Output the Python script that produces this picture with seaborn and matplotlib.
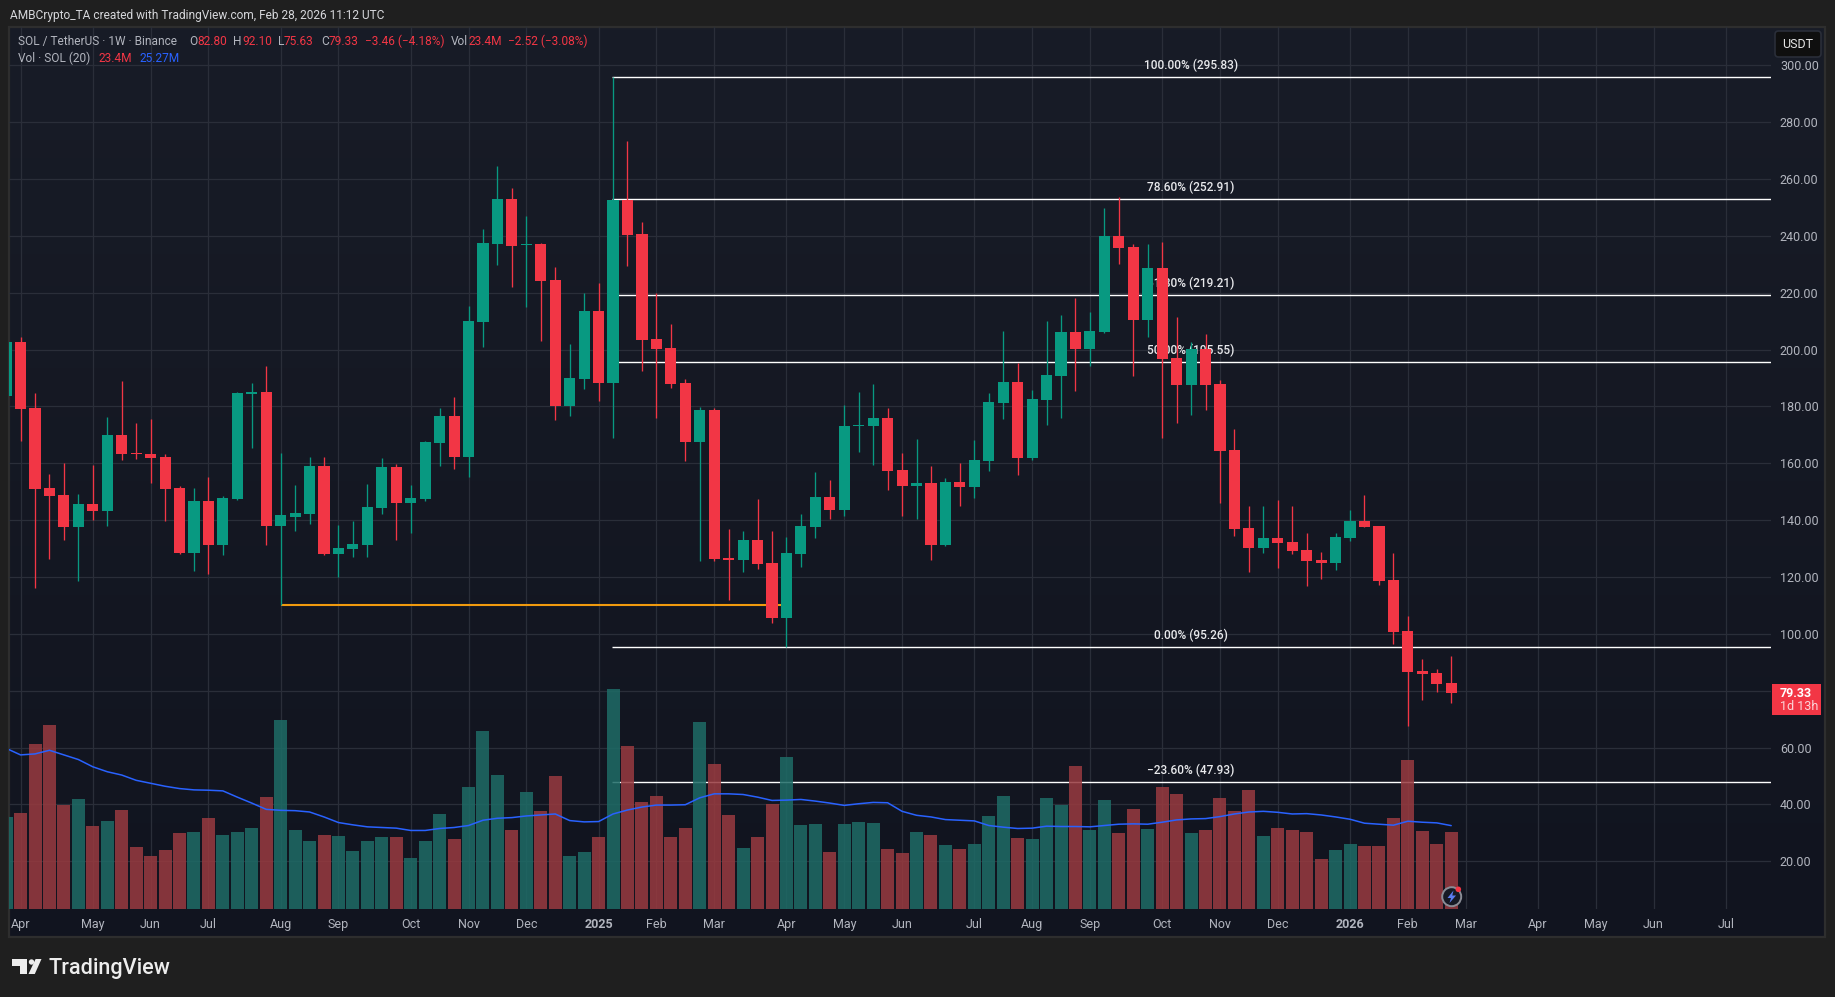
import numpy as np
import pandas as pd
import matplotlib
matplotlib.use("Agg")
import matplotlib.pyplot as plt
from matplotlib.patches import Rectangle, Circle, Polygon, FancyBboxPatch
import seaborn as sns

# ---- data -----------------------------------------------------------------
weeks = list(range(-1, 100))
open_ = [183.8,202.7,179.5,151.3,148.9,137.6,145.7,143.2,170,163.6,163.3,162.2,151.3,128.5,146.7,131.3,147.5,184.4,185.1,138,141.1,142.2,159.1,128.1,129.9,131.3,144.3,158.7,146,147.5,167.2,176.6,162.2,209.7,237.1,253,236.8,237.1,224.5,180.2,189.7,213.6,188.3,252.6,240.7,203.7,200.6,188.3,167.5,178.8,126.7,126,133,125,105.6,128.1,137.6,148.2,143.6,173.1,173.1,175.9,157.6,152,153.1,131.3,153.4,151.7,160.8,181.2,188.6,161.9,182.3,190.7,206.2,200.2,206.2,239.9,236.1,210.4,228.7,197,187.5,200.2,187.9,164.7,137.2,130.2,133.7,132.3,129.5,126,125,133.7,139.7,138,119,101,87,86.2,82.8]
high_ = [203,204.6,184.7,156.2,160.1,149.2,159.4,176.3,189,174.2,175.6,163.3,152,151.3,155.2,148.5,185.1,188.3,194.2,163.6,152.4,162.2,162.2,138.3,139.7,152.7,161.9,159.8,152.4,167.9,179.5,183.3,215.3,242.4,264.6,256.8,247,237.5,229,202,219.9,223.4,295.83,273.4,244.9,219.8,209,189.7,179.8,179.5,136.9,136.2,147.5,136.2,134.1,142.2,157,154.1,180.5,185.1,187.9,179.5,163.6,168.6,159.1,154.9,160.1,168.2,184.7,206.5,195.3,185.8,210,212.2,218.2,213.2,249.8,253.7,237.1,237.1,237.9,211.5,202.7,205.5,189.3,172.1,145,145,147.1,145,135.5,128.8,135.5,143.6,148.9,138,128.5,106.3,91.2,87.6,92.1]
low_ = [183,167.9,116.3,126.4,133,118.6,140.1,138,161.2,161.5,153.1,139.7,128.1,122.1,121.1,127.8,147.1,165.4,131.3,110.2,136.2,138.7,127.8,120,127.1,127.1,142.2,133,135.5,146.7,159.1,158,155.2,200.9,229.8,222,215,203,175.2,176.6,186.1,181.9,169,229.4,192.5,175.9,186.5,160.8,125.6,125.6,111.9,121.8,122.8,103.8,95.26,123.5,133.7,140.4,141.5,164,159.4,150.6,141.5,140.4,126,130.9,145,147.8,157.3,175.6,155.9,161.2,173.5,175.9,185.4,194.2,205.8,230.1,190.7,204.4,168.9,174.2,177,178.7,146,134.4,121.8,128.5,123.2,128.1,116.8,119.3,122.5,132.7,137.6,117.2,96.4,67.6,76.7,79.6,75.63]
close_ = [202.7,179.1,151,148.5,137.6,145.7,143.2,170,163.3,163.3,161.9,151,128.5,146.7,131.3,147.8,184.7,185.1,138,141.8,142.5,159.1,128.1,130.2,131.6,144.6,158.7,146,147.8,167.5,176.6,162.2,210,237.5,253,236.4,237.1,224.1,180.2,190,213.6,188.3,252.6,240.3,203.4,200.2,187.9,167.5,178.8,126.3,126,133,124.6,105.6,128.5,138,148.2,143.6,173.1,173.5,175.9,157.3,152,153.1,131.3,153.4,151.7,161.2,181.6,188.6,161.9,182.6,191,206.2,200.2,206.5,239.9,235.7,210.4,228.7,196.7,187.5,200.2,187.5,164.3,136.9,130.2,133.7,132,129.2,125.6,125,134.1,139.7,137.6,118.6,100.7,86.6,85.9,82.4,79.33]
volume = [27.9,29.1,50.0,55.8,31.5,33.3,25.1,26.7,30.0,18.8,16.1,17.9,23.0,23.3,27.6,22.4,23.3,24.5,33.9,57.3,23.9,20.6,22.4,22.1,17.6,20.6,21.8,21.8,15.5,20.6,28.8,21.2,37.0,53.9,40.6,23.9,35.5,29.7,40.3,16.1,17.3,21.8,66.7,49.4,32.4,34.2,21.8,24.5,56.7,43.9,28.5,18.5,21.8,31.8,46.1,25.5,25.8,17.3,25.8,26.4,26.1,18.2,17.0,23.3,22.4,19.4,18.2,19.7,28.2,34.2,21.5,21.2,33.6,31.5,43.3,23.9,33.0,23.0,30.3,24.2,37.0,34.8,23.0,23.9,33.6,29.7,36.1,22.1,24.5,23.9,23.3,15.2,17.9,19.7,19.1,19.1,27.6,45.1,23.6,19.7,23.4]
vol_ma = [48.7,46.7,47.0,48.1,46.7,45.3,43.1,41.6,40.6,39.0,38.1,37.2,36.5,36.1,36.0,35.8,33.9,32.1,30.2,29.9,29.8,29.4,27.9,26.2,25.5,24.9,24.7,24.5,23.8,23.8,24.4,24.7,25.3,26.9,27.5,27.7,28.2,28.5,28.8,26.8,26.4,26.5,28.8,30.0,30.9,31.5,31.5,31.6,33.7,34.9,34.9,34.7,33.9,32.9,33.0,33.2,32.7,32.1,31.4,31.9,32.3,32.2,29.6,28.4,27.9,27.1,26.9,26.7,25.3,24.8,24.4,24.5,25.1,25.0,25.0,24.9,25.3,25.7,25.8,25.7,26.3,27.0,27.3,27.4,28.0,28.8,29.4,29.6,29.3,28.8,28.9,28.5,27.9,27.2,26.0,25.7,25.4,26.6,26.3,26.1,25.27]
fib_levels = [295.83, 252.91, 219.21, 195.55, 95.26, 47.93]
fib_names = ["100.00%", "78.60%", "61.80%", "50.00%", "0.00%", "\u221223.60%"]
orange_level = 110.1
price_ticks = list(range(20, 301, 20))
time_ticks = [0,5,9,13,18,22,27,31,35,40,44,48,53,57,61,66,70,74,79,83,87,92,96,100,105,109,113,118]
time_labels = ["Apr","May","Jun","Jul","Aug","Sep","Oct","Nov","Dec","2025","Feb","Mar","Apr","May","Jun","Jul","Aug","Sep","Oct","Nov","Dec","2026","Feb","Mar","Apr","May","Jun","Jul"]

df = pd.DataFrame(dict(week=weeks, o=open_, h=high_, l=low_, c=close_, vol=volume, ma=vol_ma))
df["dir"] = np.where(df.c >= df.o, "up", "down")

# ---- style ---------------------------------------------------------------
W, H = 1835, 997
sns.set_theme(style="dark")
plt.rcParams["font.family"] = ["Roboto", "DejaVu Sans"]
GREEN, RED, BLUE = "#089981", "#F23645", "#2962FF"
GREY = "#B2B5BE"
GRID = "#2A2E39"

fig = plt.figure(figsize=(W / 100, H / 100), dpi=100, facecolor="#1F1F1F")

def frac(x0, y0, x1, y1):
    return [x0 / W, 1 - y1 / H, (x1 - x0) / W, (y1 - y0) / H]

# panel background
bg = fig.add_axes([0, 0, 1, 1], zorder=0)
bg.set_xlim(0, W); bg.set_ylim(H, 0); bg.axis("off")
top, bot = np.array([0x18, 0x1C, 0x27]) / 255, np.array([0x11, 0x14, 0x1F]) / 255
grad = np.linspace(0, 1, 256)[:, None, None] * (bot - top) + top
bg.imshow(grad, extent=(9, 1825, 937, 27), aspect="auto", zorder=1)
bg.set_xlim(0, W); bg.set_ylim(H, 0)
bg.add_patch(Rectangle((9, 27), 1816, 910, fill=False, ec="#2E2E2E", lw=1.6, zorder=2))

# price pane
x_min, x_max = -0.80, 121.13
ax = fig.add_axes(frac(9, 27, 1771, 909), zorder=1)
ax.patch.set_alpha(0)
ax.set_xlim(x_min, x_max)
ax.set_ylim(3.2, 313.5)
for s in ax.spines.values():
    s.set_visible(False)
ax.grid(True, color=GRID, lw=0.9, zorder=0)
ax.set_axisbelow(True)

# fib levels and their labels lie under the candles
for name, lvl in zip(fib_names, fib_levels):
    ax.hlines(lvl, 41 - 0.1, x_max, color="white", lw=1.0, zorder=1.5)
    ax.annotate(f"{name} ({lvl:.2f})", xy=(81.0, lvl), xytext=(0, 8.5), textcoords="offset points",
                ha="center", va="center", color="#E8E9EC", fontsize=8.6, fontweight="medium", zorder=1.6)
ax.hlines(orange_level, 18, 53, color="#F09A0E", lw=1.5, zorder=1.7)

# candles
for d, col in (("up", GREEN), ("down", RED)):
    s = df[df.dir == d]
    ax.vlines(s.week, s.l, s.h, color=col, lw=0.95, zorder=3)
    ax.bar(s.week, (s.c - s.o).abs().clip(lower=0.35), bottom=s[["o", "c"]].min(axis=1),
           width=0.77, color=col, lw=0, zorder=3.1)
ax.set_xlabel(""); ax.set_ylabel("")

# volume pane (overlaid, above the price drawings)
axv = ax.twinx()
axv.set_zorder(2)
axv.patch.set_alpha(0)
sns.barplot(data=df, x="week", y="vol", hue="dir", hue_order=["up", "down"],
            palette={"up": "#1E6B66", "down": "#983A40"}, native_scale=True, dodge=False,
            width=0.9, saturation=1, alpha=0.86, linewidth=0, legend=False, ax=axv)
sns.lineplot(data=df, x="week", y="ma", color=BLUE, lw=1.1, errorbar=None, ax=axv, zorder=5)
axv.set_xlim(x_min, x_max)
axv.set_ylim(0, 267.3)
axv.set_xlabel(""); axv.set_ylabel("")
axv.set_yticks([])
axv.tick_params(axis="both", length=0, labelright=False, labelleft=False, labelbottom=False)
axv.grid(False)
for s in axv.spines.values():
    s.set_visible(False)

# axis ticks belong to the price pane, set after twinx (which moves them left)
ax.set_xlim(x_min, x_max)
ax.set_xticks(time_ticks, time_labels)
ax.set_yticks(price_ticks, [f"{p:.2f}" for p in price_ticks])
ax.tick_params(axis="y", length=0, pad=6.4, colors=GREY, labelsize=9,
               left=False, right=False, labelleft=False, labelright=True)
ax.tick_params(axis="x", length=0, pad=6.6, colors=GREY, labelsize=9)
for t in ax.get_xticklabels():
    if t.get_text() in ("2025", "2026"):
        t.set_fontweight("bold")

# decorations in pixel coordinates
ov = fig.add_axes([0, 0, 1, 1], zorder=5)
ov.set_xlim(0, W); ov.set_ylim(H, 0); ov.axis("off"); ov.patch.set_alpha(0)

ov.text(10, 15, "AMBCrypto_TA created with TradingView.com, Feb 28, 2026 11:12 UTC",
        color="#D6D7DB", fontsize=8.6, va="center")

row1 = [(18, "SOL / TetherUS \u00b7 1W \u00b7 Binance", GREY), (189, "O", GREY), (197, "82.80", RED),
        (233, "H", GREY), (242, "92.10", RED), (278, "L", GREY), (284, "75.63", RED),
        (321, "C", GREY), (329, "79.33", RED), (365, "\u22123.46 (\u22124.18%)", RED),
        (451, "Vol", GREY), (468, "23.4M", RED), (508, "\u22122.52 (\u22123.08%)", RED)]
for x, s, c in row1:
    ov.text(x, 41.7, s, color=c, fontsize=8.6, va="center")
for x, s, c in [(18, "Vol \u00b7 SOL (20)", GREY), (98, "23.4M", RED), (139, "25.27M", BLUE)]:
    ov.text(x, 58.7, s, color=c, fontsize=8.6, va="center")

# USDT button
ov.add_patch(FancyBboxPatch((1775, 31), 46, 26, boxstyle="round,pad=0,rounding_size=3.5", fc="#0F0F0F",
                            ec="#2A2E39", lw=1.2))
ov.text(1798, 44.5, "USDT", color="#E6E6E6", fontsize=9, ha="center", va="center")

# last price tag
ov.add_patch(Rectangle((1772, 684), 49, 31, fc=RED, ec="none"))
ov.text(1780, 693, "79.33", color="white", fontsize=9, fontweight="bold", va="center")
ov.text(1780, 706.5, "1d 13h", color="#FBD5D9", fontsize=9, va="center")

# TradingView mark
for pts in ([(12, 959), (26.5, 959), (26.5, 974), (20, 974), (20, 966), (12, 966)],
            [(35.6, 959), (41.5, 959), (34.8, 974), (28.5, 974)]):
    ov.add_patch(Polygon(pts, closed=True, fc="#EDEDED", ec="none"))
ov.add_patch(Circle((31.5, 962), 2.7, fc="#EDEDED", ec="none"))
ov.text(48, 968, "TradingView", color="#EDEDED", fontsize=15.6, fontweight="medium", va="center")

# replay badge
ov.add_patch(Circle((1451.7, 896.7), 9.5, fc="#161A25", ec="#8A8D96", lw=1.4))
ov.add_patch(Polygon([(1453.5, 890.5), (1447.5, 898), (1451, 898), (1449.5, 903), (1456, 895.5), (1452.3, 895.5)],
                     closed=True, fc="#5B7CF0", ec="none"))
ov.add_patch(Circle((1458.3, 889.3), 2.8, fc=RED, ec="none"))

fig.savefig("out.png", dpi=100, facecolor=fig.get_facecolor())
